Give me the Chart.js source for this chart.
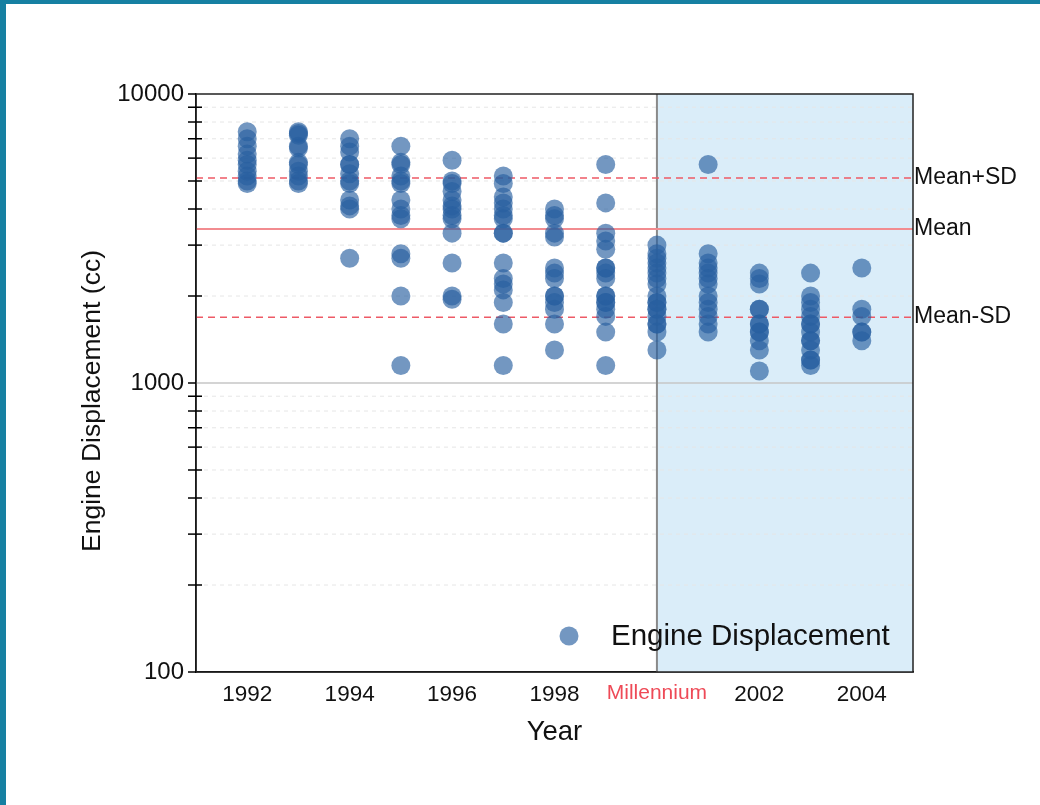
<!DOCTYPE html>
<html>
<head>
<meta charset="utf-8">
<title>Engine Displacement</title>
<script src="https://cdn.jsdelivr.net/npm/chart.js@4.4.1/dist/chart.umd.min.js"></script>
<style>
  html, body { margin: 0; padding: 0; background: #fff; }
  #wrap { position: relative; width: 1040px; height: 805px; overflow: hidden; }
  #edgeTop { position: absolute; left: 0; top: 0; width: 1040px; height: 4px; background: #1680a2; }
  #edgeLeft { position: absolute; left: 0; top: 0; width: 6px; height: 805px; background: #1680a2; }
</style>
</head>
<body>
<div id="wrap">
  <canvas id="myChart" width="1040" height="805"></canvas>
  <div id="edgeTop"></div>
  <div id="edgeLeft"></div>
</div>
<script>
'use strict';

// years on the x axis, one list of displacements (cc) per year
var years = [1992, 1993, 1994, 1995, 1996, 1997, 1998, 1999, 2000, 2001, 2002, 2003, 2004];
var cc1992 = [7400, 7000, 6600, 6200, 5900, 5700, 5400, 5200, 5000, 4900];
var cc1993 = [7400, 7300, 7200, 6600, 6500, 5800, 5700, 5400, 5200, 5000, 4900];
var cc1994 = [7000, 6600, 6300, 5700, 5700, 5300, 5000, 4900, 4300, 4100, 4000, 2700];
var cc1995 = [6600, 5800, 5700, 5200, 5000, 4900, 4300, 4000, 3800, 3700, 2800, 2700, 2000, 1150];
var cc1996 = [5900, 5000, 4900, 4600, 4300, 4100, 4000, 3800, 3700, 3300, 2600, 2000, 1950];
var cc1997 = [5200, 4900, 4400, 4200, 4000, 3800, 3700, 3300, 3300, 2600, 2300, 2200, 2100, 1900, 1600, 1150];
var cc1998 = [4000, 3800, 3700, 3300, 3200, 2500, 2400, 2300, 2000, 2000, 1900, 1800, 1600, 1300];
var cc1999 = [5700, 4200, 3300, 3100, 2900, 2500, 2500, 2400, 2300, 2000, 2000, 1900, 1900, 1800, 1700, 1500, 1150];
var cc2000 = [3000, 2800, 2700, 2600, 2500, 2400, 2300, 2200, 2000, 1900, 1900, 1800, 1800, 1700, 1600, 1600, 1500, 1300];
var cc2001 = [5700, 2800, 2600, 2500, 2400, 2300, 2200, 2000, 1900, 1800, 1700, 1600, 1500];
var cc2002 = [2400, 2300, 2200, 1800, 1800, 1600, 1600, 1500, 1500, 1400, 1300, 1100];
var cc2003 = [2400, 2000, 1900, 1800, 1700, 1600, 1600, 1500, 1400, 1400, 1300, 1200, 1200, 1150];
var cc2004 = [2500, 1800, 1700, 1500, 1500, 1400];

var meanValue = 3410;
var meanPlusSd = 5120;
var meanMinusSd = 1690;
var millenniumYear = 2000;

var xTickValues = [1992, 1994, 1996, 1998, 2000, 2002, 2004];
var yTickValues = [100, 200, 300, 400, 500, 600, 700, 800, 900, 1000,
                   2000, 3000, 4000, 5000, 6000, 7000, 8000, 9000, 10000];

var fontFamily = '"Liberation Sans", Arial, Helvetica, sans-serif';
var dotColor = 'rgba(40, 95, 160, 0.65)';

var byYear = [cc1992, cc1993, cc1994, cc1995, cc1996, cc1997, cc1998, cc1999, cc2000, cc2001, cc2002, cc2003, cc2004];
var points = [];
for (let a = 0; a < years.length; a++) {
  for (let b = 0; b < byYear[a].length; b++) {
    points.push({ x: years[a], y: byYear[a][b] });
  }
}

function isDecade(v) {
  return v === 100 || v === 1000 || v === 10000;
}

var decorPlugin = {
  id: 'decor',
  beforeDatasetsDraw: function (chart) {
    var ctx = chart.ctx, area = chart.chartArea;
    var xs = chart.scales.x, ys = chart.scales.y;
    var xm = xs.getPixelForValue(millenniumYear);
    ctx.save();

    // shaded part after the millennium
    ctx.fillStyle = '#daedf9';
    ctx.fillRect(xm, area.top, area.right - xm, area.bottom - area.top);

    // grid lines
    ys.ticks.forEach(function (t) {
      if (t.value === 100 || t.value === 10000) return;
      var y = ys.getPixelForValue(t.value);
      ctx.beginPath();
      if (t.value === 1000) {
        ctx.setLineDash([]);
        ctx.strokeStyle = '#c6c6c6';
        ctx.lineWidth = 1.5;
      } else {
        ctx.setLineDash([4, 4]);
        ctx.strokeStyle = '#e6e6e6';
        ctx.lineWidth = 1;
      }
      ctx.moveTo(area.left, y);
      ctx.lineTo(area.right, y);
      ctx.stroke();
    });

    // millennium line
    ctx.setLineDash([]);
    ctx.strokeStyle = '#8a8a8a';
    ctx.lineWidth = 2;
    ctx.beginPath();
    ctx.moveTo(xm, area.top);
    ctx.lineTo(xm, area.bottom);
    ctx.stroke();

    // mean and sd lines
    var lines = [
      { v: meanPlusSd, dash: [7, 5], color: '#ee5a66', w: 1.5 },
      { v: meanValue, dash: [], color: '#f28c90', w: 2 },
      { v: meanMinusSd, dash: [7, 5], color: '#ee5a66', w: 1.5 }
    ];
    lines.forEach(function (l) {
      var y = ys.getPixelForValue(l.v);
      ctx.setLineDash(l.dash);
      ctx.strokeStyle = l.color;
      ctx.lineWidth = l.w;
      ctx.beginPath();
      ctx.moveTo(area.left, y);
      ctx.lineTo(area.right, y);
      ctx.stroke();
    });
    ctx.restore();
  },
  afterDatasetsDraw: function (chart) {
    var ctx = chart.ctx, area = chart.chartArea;
    var ys = chart.scales.y;
    ctx.save();

    // frame
    ctx.strokeStyle = '#222';
    ctx.lineWidth = 1.5;
    ctx.setLineDash([]);
    ctx.strokeRect(area.left, area.top, area.right - area.left, area.bottom - area.top);

    // y tick marks crossing the axis
    ctx.strokeStyle = '#000';
    ys.ticks.forEach(function (t) {
      var y = ys.getPixelForValue(t.value);
      ctx.beginPath();
      ctx.moveTo(area.left - 8, y);
      ctx.lineTo(area.left + (isDecade(t.value) ? 0 : 6), y);
      ctx.stroke();
    });

    // labels of the reference lines
    ctx.fillStyle = '#111';
    ctx.font = '23px ' + fontFamily;
    ctx.textAlign = 'left';
    ctx.textBaseline = 'middle';
    ctx.fillText('Mean+SD', area.right + 1, ys.getPixelForValue(meanPlusSd));
    ctx.fillText('Mean', area.right + 1, ys.getPixelForValue(meanValue));
    ctx.fillText('Mean-SD', area.right + 1, ys.getPixelForValue(meanMinusSd));

    // y axis title, a little below the middle as in the original
    ctx.save();
    ctx.translate(93, (area.top + area.bottom) / 2 + 18);
    ctx.rotate(-Math.PI / 2);
    ctx.textAlign = 'center';
    ctx.font = '26.5px ' + fontFamily;
    ctx.fillText('Engine Displacement (cc)', 0, 0);
    ctx.restore();

    // legend inside the plot
    var lx = area.right - 344, ly = area.bottom - 36;
    ctx.fillStyle = dotColor;
    ctx.beginPath();
    ctx.arc(lx, ly, 9.5, 0, Math.PI * 2);
    ctx.fill();
    ctx.fillStyle = '#111';
    ctx.font = '29.5px ' + fontFamily;
    ctx.fillText('Engine Displacement', lx + 42, ly + 1);
    ctx.restore();
  }
};

var ctx = document.getElementById('myChart').getContext('2d');
var myChart = new Chart(ctx, {
  type: 'scatter',
  data: {
    datasets: [{
      label: 'Engine Displacement',
      data: points,
      backgroundColor: dotColor,
      borderWidth: 0,
      pointRadius: 9.5,
      pointHoverRadius: 9.5
    }]
  },
  options: {
    responsive: false,
    animation: false,
    layout: { padding: { left: 73, top: 94, right: 127, bottom: 52 } },
    plugins: {
      legend: { display: false },
      tooltip: { enabled: false }
    },
    scales: {
      x: {
        type: 'linear',
        min: 1991,
        max: 2005,
        afterBuildTicks: function (scale) {
          scale.ticks = xTickValues.map(function (v) { return { value: v }; });
        },
        afterFit: function (scale) { scale.height = 81; },
        grid: { display: false, drawTicks: false },
        border: { display: true, color: '#000', width: 1.5 },
        ticks: {
          padding: 9,
          autoSkip: false,
          maxRotation: 0,
          color: function (c) { return c.tick && c.tick.value === millenniumYear ? '#ee4a57' : '#111'; },
          font: function (c) {
            var big = !(c.tick && c.tick.value === millenniumYear);
            return { family: fontFamily, size: big ? 22.5 : 21 };
          },
          callback: function (v) { return v === millenniumYear ? 'Millennium' : String(v); }
        },
        title: {
          display: true,
          text: 'Year',
          color: '#111',
          font: { family: fontFamily, size: 27.5 },
          padding: { top: 4, bottom: 4 }
        }
      },
      y: {
        type: 'logarithmic',
        min: 100,
        max: 10000,
        afterBuildTicks: function (scale) {
          scale.ticks = yTickValues.map(function (v) { return { value: v }; });
        },
        afterFit: function (scale) { scale.width = 196 - 73; },
        grid: { display: false, drawTicks: false },
        border: { display: true, color: '#000', width: 1.5 },
        ticks: {
          padding: 12,
          autoSkip: false,
          color: '#111',
          font: { family: fontFamily, size: 24 },
          callback: function (v) { return isDecade(v) ? String(v) : ''; }
        },
        title: { display: false }
      }
    }
  },
  plugins: [decorPlugin]
});
</script>
</body>
</html>
